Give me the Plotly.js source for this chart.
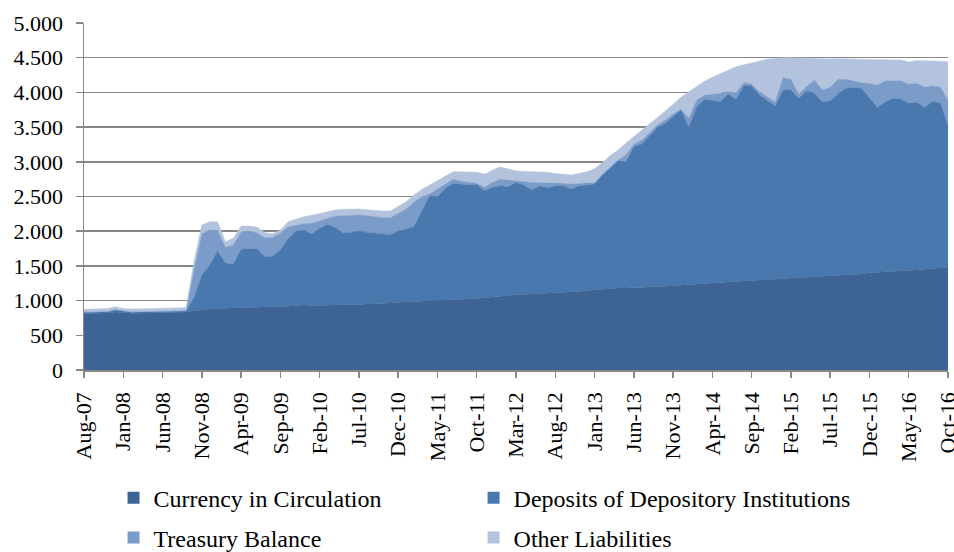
<!DOCTYPE html>
<html>
<head>
<meta charset="utf-8">
<script src="https://cdn.plot.ly/plotly-3.0.1.min.js"></script>
<style>html,body{margin:0;padding:0;background:#fff;}#chart{width:954px;height:552px;}</style>
</head>
<body>
<div id="chart"></div>
<script>
// Month categories Aug-07 .. Oct-16
var monthNames = ["Jan","Feb","Mar","Apr","May","Jun","Jul","Aug","Sep","Oct","Nov","Dec"];
var months = [];
for (var k = 0; k < 111; k++) {
  var m = (7 + k) % 12;
  var yr = 2007 + Math.floor((7 + k) / 12);
  months.push(monthNames[m] + "-" + String(yr).slice(2));
}
var tickLabels = ["Aug-07","Jan-08","Jun-08","Nov-08","Apr-09","Sep-09","Feb-10","Jul-10","Dec-10","May-11","Oct-11","Mar-12","Aug-12","Jan-13","Jun-13","Nov-13","Apr-14","Sep-14","Feb-15","Jul-15","Dec-15","May-16","Oct-16"];

var currency = [815,815,818,820,835,825,818,818,820,822,
  825,828,830,835,855,870,880,885,890,895,
  900,905,908,910,912,915,918,925,935,930,
  930,932,935,940,942,945,950,955,958,965,
  975,980,985,992,1000,1005,1010,1015,1020,1025,
  1030,1040,1055,1060,1075,1085,1090,1095,1100,1105,
  1110,1115,1120,1130,1145,1155,1165,1175,1180,1182,
  1185,1190,1195,1200,1205,1215,1225,1230,1240,1250,
  1255,1262,1268,1272,1278,1282,1290,1298,1310,1315,
  1325,1335,1340,1345,1350,1355,1360,1365,1372,1385,
  1400,1405,1415,1425,1430,1435,1440,1450,1458,1465,1480];

var deposits = [15,17,15,18,30,20,15,17,18,18,
  17,17,18,15,182,500,630,830,650,630,
  840,840,842,725,728,815,982,1075,1075,1030,
  1110,1168,1115,1030,1043,1055,1035,1015,1007,985,
  1025,1050,1080,1298,1505,1492,1610,1675,1660,1640,
  1645,1545,1575,1595,1565,1615,1575,1500,1550,1522,
  1540,1540,1488,1520,1520,1525,1645,1735,1830,1818,
  2033,2066,2185,2297,2350,2435,2521,2267,2555,2650,
  2630,2604,2709,2628,2814,2810,2672,2582,2498,2720,
  2710,2580,2680,2642,2516,2521,2620,2695,2696,2673,
  2520,2379,2445,2490,2470,2408,2417,2334,2408,2387,2050];

var treasury = [5,4,5,5,5,5,5,5,5,5,
  6,5,4,5,403,590,507,302,230,275,
  250,255,230,270,270,240,165,90,100,155,
  110,85,170,255,245,235,240,240,230,245,
  260,290,355,207,30,111,60,60,40,35,
  15,50,70,95,97,20,45,105,50,73,
  45,35,72,35,25,20,10,20,15,100,
  32,58,40,33,47,40,14,129,95,62,
  90,121,33,96,48,28,48,60,58,177,
  158,57,70,192,169,197,208,128,92,82,
  210,323,304,249,264,275,274,289,226,231,360];

var other = [40,40,40,42,42,35,40,40,40,41,
  40,40,41,43,120,130,120,120,80,100,
  85,75,80,75,50,47,72,80,100,115,
  105,95,85,90,90,85,85,85,95,95,
  95,105,100,103,130,122,120,107,135,150,
  160,185,180,175,163,150,150,160,157,150,
  135,125,130,145,167,200,165,160,145,170,
  110,136,120,110,128,140,170,384,200,198,
  245,286,310,374,260,300,440,540,629,288,
  307,523,400,301,445,407,297,292,320,340,
  345,363,306,303,303,320,327,382,365,367,552];

var seriesNames = ["Currency in Circulation","Deposits of Depository Institutions","Treasury Balance","Other Liabilities"];
var seriesColors = ["#3D6494","#4878AE","#7B9BC8","#B4C3DD"];
var seriesData = [currency, deposits, treasury, other];
var legendIds = ["legend","legend2","legend3","legend4"];

var traces = [];
for (var s = 0; s < 4; s++) {
  traces.push({
    type: "scatter", mode: "lines", x: months, y: seriesData[s],
    name: seriesNames[s], stackgroup: "one",
    line: {width: 0.5, color: seriesColors[s]},
    fillcolor: seriesColors[s], showlegend: false, hoverinfo: "x+y+name"
  });
}
for (var s2 = 0; s2 < 4; s2++) {
  traces.push({
    type: "scatter", mode: "markers", x: [null], y: [null],
    name: seriesNames[s2], legend: legendIds[s2],
    marker: {symbol: "square", size: 12, color: seriesColors[s2]},
    showlegend: true, hoverinfo: "skip"
  });
}

var font = "'Liberation Serif', 'Times New Roman', serif";
function legendAt(xPos, yPos) {
  return {
    orientation: "h", x: xPos, xanchor: "left", y: yPos, yanchor: "middle",
    font: {family: font, size: 24, color: "#000"},
    bgcolor: "rgba(0,0,0,0)", itemwidth: 30
  };
}
var layout = {
  width: 954, height: 552,
  margin: {l: 84, r: 6, t: 23, b: 182, autoexpand: false},
  paper_bgcolor: "#fff", plot_bgcolor: "#fff",
  separators: ",.",
  font: {family: font, size: 22, color: "#000"},
  showlegend: true,
  xaxis: {
    type: "category", range: [0, 110],
    tickmode: "array", tickvals: tickLabels, ticktext: tickLabels,
    tickangle: -90, ticks: "outside", ticklen: 6, tickwidth: 1.5, tickcolor: "#878787",
    showline: true, linecolor: "#878787", linewidth: 1.5,
    showgrid: false, zeroline: false, ticklabelstandoff: 6,
    tickfont: {family: font, size: 22, color: "#000"}
  },
  yaxis: {
    range: [0, 5000], dtick: 500, tick0: 0, tickformat: ",d",
    ticks: "outside", ticklen: 7, tickwidth: 1.5, tickcolor: "#878787",
    showline: true, linecolor: "#878787", linewidth: 1.5,
    showgrid: true, gridcolor: "#878787", gridwidth: 1.5, zeroline: false,
    ticklabelstandoff: 8,
    tickfont: {family: font, size: 22, color: "#000"}
  },
  legend: legendAt(0.0342, -0.369),
  legend2: legendAt(0.4509, -0.369),
  legend3: legendAt(0.0342, -0.484),
  legend4: legendAt(0.4509, -0.484)
};

Plotly.newPlot("chart", traces, layout, {displayModeBar: false, staticPlot: true});
</script>
</body>
</html>
